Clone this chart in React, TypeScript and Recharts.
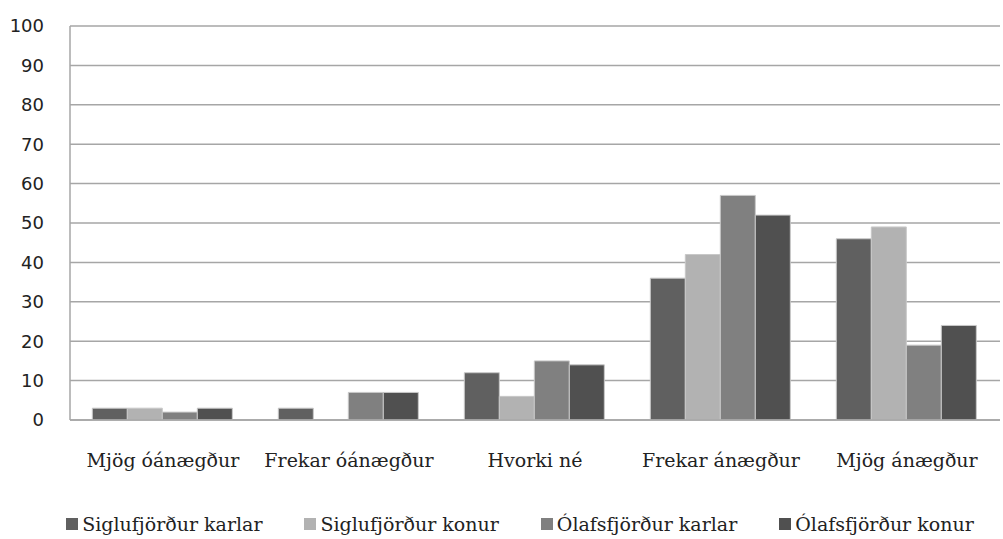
import { BarChart, Bar, XAxis, YAxis, CartesianGrid, Legend } from "recharts"

const categories = ["Mjög óánægður", "Frekar óánægður", "Hvorki né", "Frekar ánægður", "Mjög ánægður"]
const siglufjordurKarlar = [3, 3, 12, 36, 46]
const siglufjordurKonur = [3, 0, 6, 42, 49]
const olafsfjordurKarlar = [2, 7, 15, 57, 19]
const olafsfjordurKonur = [3, 7, 14, 52, 24]
const yTicks = [0, 10, 20, 30, 40, 50, 60, 70, 80, 90, 100]

const series = [
  { key: "sk", name: "Siglufjörður karlar", color: "#606060" },
  { key: "sko", name: "Siglufjörður konur", color: "#b2b2b2" },
  { key: "ok", name: "Ólafsfjörður karlar", color: "#808080" },
  { key: "oko", name: "Ólafsfjörður konur", color: "#505050" },
]

const data = categories.map((c, i) => ({
  name: c,
  sk: siglufjordurKarlar[i],
  sko: siglufjordurKonur[i],
  ok: olafsfjordurKarlar[i],
  oko: olafsfjordurKonur[i],
}))

const serif = "'DejaVu Serif', 'Liberation Serif', serif"

function LegendBox() {
  return (
    <div
      style={{
        display: "flex",
        justifyContent: "center",
        alignItems: "center",
        gap: 42,
        height: 30,
        fontFamily: serif,
        fontSize: 19,
        color: "#222",
        paddingLeft: 40,
      }}
    >
      {series.map((s) => (
        <div key={s.key} style={{ display: "flex", alignItems: "center" }}>
          <span style={{ width: 12, height: 12, background: s.color, marginRight: 4, display: "inline-block" }} />
          <span>{s.name}</span>
        </div>
      ))}
    </div>
  )
}

export default function App() {
  return (
    <div style={{ position: "absolute", left: 0, top: 0, background: "#fff" }}>
      <BarChart
        width={1003}
        height={539}
        data={data}
        margin={{ top: 26, right: 3, bottom: 0, left: 0 }}
        barCategoryGap="12%"
        barGap={0}
      >
        <CartesianGrid vertical={false} stroke="#a6a6a6" strokeWidth={1.5} />
        <YAxis
          domain={[0, 100]}
          ticks={yTicks}
          width={70}
          axisLine={{ stroke: "#a6a6a6", strokeWidth: 1.5 }}
          tickLine={false}
          tickMargin={20}
          tick={{ fontSize: 18, fill: "#222", fontFamily: "'DejaVu Sans', sans-serif" }}
        />
        <XAxis
          dataKey="name"
          height={89}
          axisLine={{ stroke: "#a6a6a6", strokeWidth: 1.5 }}
          tickLine={false}
          tickMargin={28}
          interval={0}
          tick={{ fontSize: 19, fill: "#222", fontFamily: serif }}
        />
        <Legend verticalAlign="bottom" content={() => <LegendBox />} wrapperStyle={{ height: 30 }} />
        {series.map((s) => (
          <Bar
            key={s.key}
            dataKey={s.key}
            name={s.name}
            fill={s.color}
            stroke="#c8c8c8"
            strokeWidth={1}
            isAnimationActive={false}
          />
        ))}
      </BarChart>
    </div>
  )
}
